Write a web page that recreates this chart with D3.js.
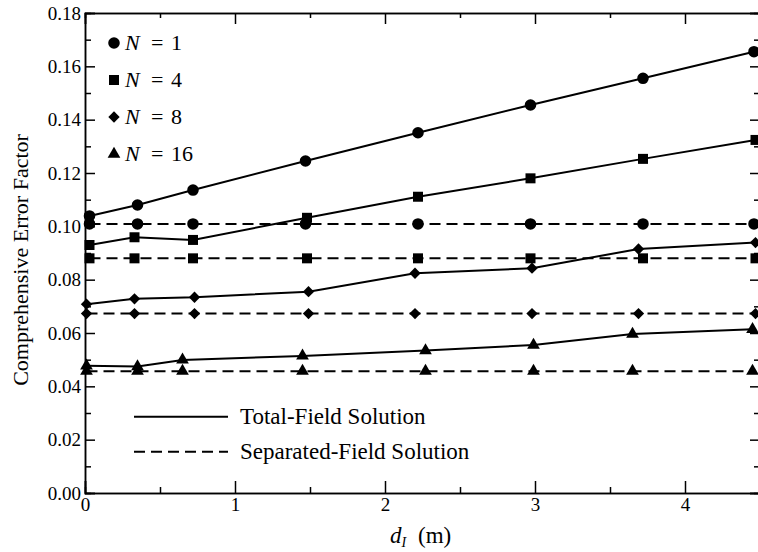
<!DOCTYPE html>
<html><head><meta charset="utf-8">
<script src="https://cdn.jsdelivr.net/npm/d3@7"></script>
</head><body style="margin:0;background:#fff">
<svg id="c" width="758" height="552" font-family="Liberation Serif"></svg>
<script>
// ---- data ----
const seriesN = ["1", "4", "8", "16"];
const xN1  = [0.03, 0.35, 0.72, 1.47, 2.22, 2.97, 3.72, 4.46];
const xN4  = [0.03, 0.33, 0.72, 1.48, 2.22, 2.97, 3.72, 4.47];
const xN8  = [0.01, 0.33, 0.73, 1.49, 2.20, 2.98, 3.69, 4.47];
const xN16 = [0.01, 0.35, 0.65, 1.45, 2.27, 2.99, 3.65, 4.45];
const totalN1  = [0.1039, 0.1080, 0.1136, 0.1245, 0.1351, 0.1455, 0.1555, 0.1655];
const totalN4  = [0.0930, 0.0959, 0.0949, 0.1032, 0.1111, 0.1180, 0.1253, 0.1324];
const totalN8  = [0.0708, 0.0728, 0.0734, 0.0755, 0.0824, 0.0843, 0.0915, 0.0939];
const totalN16 = [0.0477, 0.0474, 0.0499, 0.0514, 0.0534, 0.0555, 0.0596, 0.0614];
const sepN1  = [0.1009, 0.1009, 0.1009, 0.1009, 0.1009, 0.1009, 0.1009, 0.1009];
const sepN4  = [0.0880, 0.0880, 0.0880, 0.0880, 0.0880, 0.0880, 0.0880, 0.0880];
const sepN8  = [0.0673, 0.0673, 0.0673, 0.0673, 0.0673, 0.0673, 0.0673, 0.0673];
const sepN16 = [0.0457, 0.0457, 0.0457, 0.0457, 0.0457, 0.0457, 0.0457, 0.0457];
const xTicks = [0, 1, 2, 3, 4];
const xMinorTicks = [0.5, 1.5, 2.5, 3.5, 4.5];
const yTicks = [0, 0.02, 0.04, 0.06, 0.08, 0.10, 0.12, 0.14, 0.16, 0.18];
const yMinorTicks = [0.01, 0.03, 0.05, 0.07, 0.09, 0.11, 0.13, 0.15, 0.17];
const lineLabels = ["Total-Field Solution", "Separated-Field Solution"];

// ---- layout ----
const FONT = '"Liberation Serif"';
const svg = d3.select("#c");
const m = {l: 85, t: 13, r: 760, b: 493};
const x = d3.scaleLinear().domain([0, 4.5]).range([m.l, m.r]);
const y = d3.scaleLinear().domain([0, 0.18]).range([m.b, m.t]);

const shapes = [
  d3.symbol().type(d3.symbolCircle).size(105),
  d3.symbol().type(d3.symbolSquare).size(100),
  d3.symbol().type(d3.symbolSquare).size(64),
  d3.symbol().type(d3.symbolTriangle).size(70)
];
const rot = [0, 0, 45, 0];

const groups = [
  {xs: xN1, tot: totalN1, sep: sepN1},
  {xs: xN4, tot: totalN4, sep: sepN4},
  {xs: xN8, tot: totalN8, sep: sepN8},
  {xs: xN16, tot: totalN16, sep: sepN16}
];

const line = d3.line().x(d => x(d[0])).y(d => y(d[1]));

groups.forEach((g, i) => {
  const tot = g.xs.map((v, j) => [v, g.tot[j]]);
  const sep = g.xs.map((v, j) => [v, g.sep[j]]);
  svg.append("path").datum(sep).attr("d", line).attr("fill", "none")
    .attr("stroke", "#000").attr("stroke-width", 2).attr("stroke-dasharray", "11,6");
  svg.append("path").datum(tot).attr("d", line).attr("fill", "none")
    .attr("stroke", "#000").attr("stroke-width", 2);
  [tot, sep].forEach(pts => {
    svg.selectAll(null).data(pts).enter().append("path")
      .attr("d", shapes[i])
      .attr("transform", d => `translate(${x(d[0])},${y(d[1])}) rotate(${rot[i]})`)
      .attr("fill", "#000");
  });
});

// ---- axes ----
function styleAxis(sel) {
  sel.attr("font-family", null);
  sel.select(".domain").attr("stroke", "#000").attr("stroke-width", 1.5);
  sel.selectAll(".tick line").attr("stroke", "#000").attr("stroke-width", 1.5);
  sel.selectAll("text").style("font-family", FONT).style("font-size", "19px").attr("fill", "#000");
}
const gx = svg.append("g").attr("transform", `translate(0,${m.b})`)
  .call(d3.axisBottom(x).tickValues(xTicks).tickSize(-12).tickPadding(5).tickFormat(d3.format("d")));
styleAxis(gx);
const gxm = svg.append("g").attr("transform", `translate(0,${m.b})`)
  .call(d3.axisBottom(x).tickValues(xMinorTicks).tickSize(-6).tickFormat(""));
styleAxis(gxm);
const gxt = svg.append("g").attr("transform", `translate(0,${m.t})`)
  .call(d3.axisTop(x).tickValues(xTicks).tickSize(-11).tickFormat(""));
styleAxis(gxt);
const gxtm = svg.append("g").attr("transform", `translate(0,${m.t})`)
  .call(d3.axisTop(x).tickValues(xMinorTicks).tickSize(-5).tickFormat(""));
styleAxis(gxtm);

const gy = svg.append("g").attr("transform", `translate(${m.l},0)`)
  .call(d3.axisLeft(y).tickValues(yTicks).tickSize(-10).tickPadding(4).tickFormat(d3.format(".2f")));
styleAxis(gy);
const gym = svg.append("g").attr("transform", `translate(${m.l},0)`)
  .call(d3.axisLeft(y).tickValues(yMinorTicks).tickSize(-6).tickFormat(""));
styleAxis(gym);
const gyr = svg.append("g").attr("transform", `translate(${m.r},0)`)
  .call(d3.axisRight(y).tickValues(yTicks).tickSize(-10).tickFormat(""));
styleAxis(gyr);
const gyrm = svg.append("g").attr("transform", `translate(${m.r},0)`)
  .call(d3.axisRight(y).tickValues(yMinorTicks).tickSize(-6).tickFormat(""));
styleAxis(gyrm);

// ---- titles ----
svg.append("text").attr("transform", "translate(28,260) rotate(-90)")
  .style("font-family", FONT).style("font-size", "22px")
  .attr("text-anchor", "middle")
  .text("Comprehensive Error Factor");
const xt = svg.append("text").attr("y", 543)
  .style("font-family", FONT).style("font-size", "23px");
xt.append("tspan").attr("x", 390).style("font-style", "italic").text("d");
xt.append("tspan").style("font-style", "italic").style("font-size", "14px").attr("dy", 4).text("I");
xt.append("tspan").attr("x", 418).attr("dy", -4).text("(m)");

// ---- legends ----
seriesN.forEach((n, i) => {
  const cy = 43 + i * 37;
  svg.append("path").attr("d", shapes[i])
    .attr("transform", `translate(114,${cy}) rotate(${rot[i]})`).attr("fill", "#000");
  const t = svg.append("text").attr("y", cy + 7)
    .style("font-family", FONT).style("font-size", "22px");
  t.append("tspan").attr("x", 125).style("font-style", "italic").text("N");
  t.append("tspan").attr("x", 151).text("=");
  t.append("tspan").attr("x", 171).text(n);
});

const lg = [[416.7, null], [451.7, "11,6"]];
lineLabels.forEach((lab, i) => {
  svg.append("line").attr("x1", 134).attr("x2", 228).attr("y1", lg[i][0]).attr("y2", lg[i][0])
    .attr("stroke", "#000").attr("stroke-width", 2)
    .attr("stroke-dasharray", lg[i][1]);
  svg.append("text").attr("x", 240).attr("y", lg[i][0] + 7)
    .style("font-family", FONT).style("font-size", "23px").text(lab);
});
</script>
</body></html>
